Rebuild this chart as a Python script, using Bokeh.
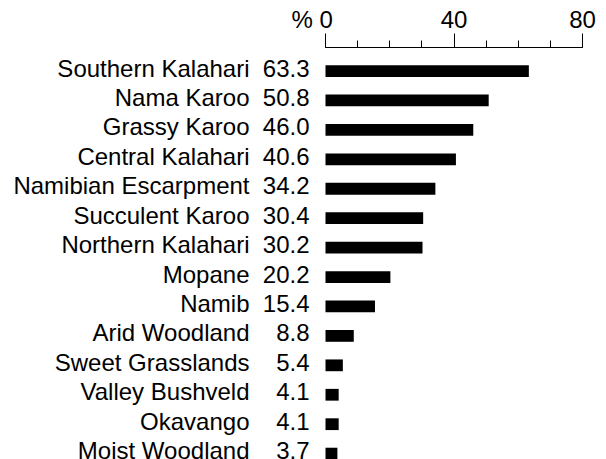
from bokeh.plotting import figure
from bokeh.models import Range1d, FixedTicker, ColumnDataSource
from bokeh.core.properties import value
from bokeh.embed import file_html
from bokeh.resources import INLINE

categories = ["Southern Kalahari", "Nama Karoo", "Grassy Karoo", "Central Kalahari",
              "Namibian Escarpment", "Succulent Karoo", "Northern Kalahari", "Mopane",
              "Namib", "Arid Woodland", "Sweet Grasslands", "Valley Bushveld",
              "Okavango", "Moist Woodland"]
values = [63.3, 50.8, 46.0, 40.6, 34.2, 30.4, 30.2, 20.2, 15.4, 8.8, 5.4, 4.1, 4.1, 3.7]
x_ticks = [0, 40, 80]
x_minor_ticks = [0, 10, 20, 30, 40, 50, 60, 70, 80]
unit_label = "%"

FONT = "Liberation Sans"
idx = list(range(len(categories)))
src = ColumnDataSource(dict(idx=idx, val=values, cat=categories,
                            lab=[f"{v:.1f}" for v in values]))

p = figure(width=606, height=459,
           x_range=Range1d(-101.17, 80), y_range=Range1d(13.2, -0.8),
           output_backend="svg", toolbar_location=None,
           x_axis_location="above", y_axis_location=None,
           min_border_left=0, min_border_right=24, min_border_top=47, min_border_bottom=0)
p.outline_line_color = None
p.grid.visible = False
p.background_fill_color = "white"

xa = p.xaxis[0]
xa.ticker = FixedTicker(ticks=x_ticks, minor_ticks=x_minor_ticks)
xa.bounds = (0, 80)
xa.major_tick_out = 14
xa.major_tick_in = 0
xa.minor_tick_out = 7
xa.minor_tick_in = 0
xa.axis_line_color = "black"
xa.major_tick_line_color = "black"
xa.minor_tick_line_color = "black"
xa.major_label_text_font = FONT
xa.major_label_text_font_size = "24px"
xa.major_label_text_color = "black"
xa.major_label_standoff = 1
# unit sign placed left of the zero tick label (figure spaces keep "0" centred)
xa.major_label_overrides = {0: unit_label + " 0\u2007\u2007"}

p.hbar(y="idx", left=0, right="val", height=0.4, source=src,
       fill_color="black", line_color=None)

p.text(x=0, y="idx", text="cat", source=src, x_offset=-76, y_offset=-3,
       text_align="right", text_baseline="middle",
       text_font=value(FONT), text_font_size="24px", text_color="black")

p.text(x=0, y="idx", text="lab", source=src, x_offset=-16, y_offset=-3,
       text_align="right", text_baseline="middle",
       text_font=value(FONT), text_font_size="24px", text_color="black")

open("out.html", "w").write(file_html(p, INLINE))
